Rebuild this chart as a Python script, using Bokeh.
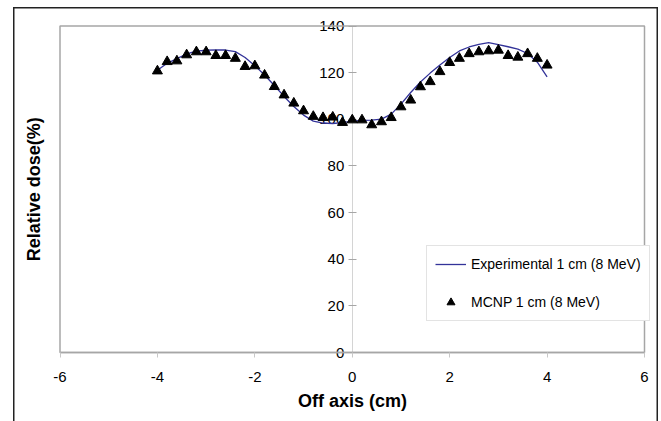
import math
from bokeh.plotting import figure
from bokeh.models import LinearAxis, FixedTicker, Legend, LegendItem, Range1d, Label
from bokeh.embed import file_html
from bokeh.resources import INLINE

# Off-axis positions (cm)
x_cm = [-4.0, -3.8, -3.6, -3.4, -3.2, -3.0, -2.8, -2.6, -2.4, -2.2, -2.0,
        -1.8, -1.6, -1.4, -1.2, -1.0, -0.8, -0.6, -0.4, -0.2, 0.0,
        0.2, 0.4, 0.6, 0.8, 1.0, 1.2, 1.4, 1.6, 1.8, 2.0,
        2.2, 2.4, 2.6, 2.8, 3.0, 3.2, 3.4, 3.6, 3.8, 4.0]

# Experimental 1 cm (8 MeV)
experimental = [121.0, 124.0, 126.0, 128.0, 129.2, 129.6, 129.8, 129.7, 129.0, 126.5, 123.0,
                119.0, 114.5, 109.8, 105.5, 101.8, 99.2, 98.4, 98.2, 98.6, 99.2,
                99.5, 99.6, 100.1, 102.2, 106.5, 111.5, 116.0, 119.8, 123.3, 126.5,
                129.3, 131.0, 132.1, 132.9, 132.0, 131.1, 130.1, 128.2, 124.5, 118.2]

# MCNP 1 cm (8 MeV)
mcnp = [120.7, 124.7, 125.0, 127.6, 128.9, 128.9, 127.3, 127.3, 126.1, 122.6, 122.9,
        118.9, 114.0, 110.4, 106.9, 103.6, 101.2, 100.7, 100.9, 98.6, 99.7,
        99.7, 97.6, 98.9, 100.7, 105.3, 108.2, 113.9, 116.1, 120.4, 124.3,
        126.1, 128.1, 128.9, 129.3, 129.6, 127.3, 126.6, 128.1, 126.1, 123.2]

x_ticks = [-6, -4, -2, 0, 2, 4, 6]
y_ticks = [0, 20, 40, 60, 80, 100, 120, 140]

FONT = "Liberation Sans"

# ---- layout (pixels inside the figure) ----
W, H = 645, 414
PLOT_L, PLOT_R = 46.5, 631.0     # plot area left/right
PLOT_T, PLOT_B = 18.5, 345.0     # plot area top/bottom
x0, x1 = x_ticks[0], x_ticks[-1]
y0, y1 = y_ticks[0], y_ticks[-1]
sx = (PLOT_R - PLOT_L) / (x1 - x0)
sy = (PLOT_B - PLOT_T) / (y1 - y0)
x_range = Range1d(x0 - PLOT_L / sx, x1 + (W - PLOT_R) / sx)
y_range = Range1d(y0 - (H - PLOT_B) / sy, y1 + PLOT_T / sy)

p = figure(width=W, height=H, x_range=x_range, y_range=y_range,
           output_backend="svg", toolbar_location=None,
           x_axis_location=None, y_axis_location=None,
           min_border=0)
p.styles = {"margin-left": "13px", "margin-top": "7px",
            "box-shadow": "inset 1.5px 1.5px 0 0 #222222, inset -1.5px 0 0 0 #222222"}

p.grid.visible = False
p.outline_line_color = None
p.background_fill_color = None
p.border_fill_alpha = 0

# plot-area border
p.quad(left=[x0], right=[x1], bottom=[y0], top=[y1],
       fill_color=None, line_color="#a6a6a6", line_width=1.5)

# x axis along y = 0
xa = LinearAxis(fixed_location=0, ticker=FixedTicker(ticks=x_ticks), bounds=(x0, x1))
xa.major_label_overrides = {t: str(t) for t in x_ticks}
xa.axis_line_color = "#a6a6a6"
xa.axis_line_width = 1.5
xa.major_tick_line_color = "#c8c8c8"
xa.major_tick_in = 0
xa.major_tick_out = 5
xa.minor_tick_line_color = None
xa.major_label_text_font = FONT
xa.major_label_text_font_size = "15px"
xa.major_label_text_color = "black"
xa.major_label_standoff = 14
xa.axis_label = "Off axis (cm)"
xa.axis_label_text_font = FONT
xa.axis_label_text_font_size = "18px"
xa.axis_label_text_font_style = "bold"
xa.axis_label_text_color = "black"
xa.axis_label_standoff = 6
p.add_layout(xa, "below")

# y axis crossing at x = 0
ya = LinearAxis(fixed_location=0, ticker=FixedTicker(ticks=y_ticks), bounds=(y0, y1))
ya.level = "underlay"
ya.axis_line_color = "#d4d4d4"
ya.axis_line_width = 1
ya.major_tick_line_color = "#a6a6a6"
ya.major_tick_in = 4
ya.major_tick_out = 4
ya.minor_tick_line_color = None
ya.major_label_text_font = FONT
ya.major_label_text_font_size = "15px"
ya.major_label_text_color = "black"
ya.major_label_standoff = 4
p.add_layout(ya, "left")

# y axis title at the far left
p.add_layout(Label(x=x0, y=(y0 + y1) / 2, x_offset=-26, text="Relative dose(%)",
                   angle=math.pi / 2, text_align="center", text_baseline="middle",
                   text_font=FONT, text_font_size="18px", text_font_style="bold",
                   text_color="black"))

r_exp = p.line(x_cm, experimental, line_color="#333399", line_width=1.3)
r_mc = p.scatter(x_cm, mcnp, marker="triangle", size=10,
                 fill_color="black", line_color="black")

legend = Legend(items=[LegendItem(label="Experimental 1 cm (8 MeV)", renderers=[r_exp]),
                       LegendItem(label="MCNP 1 cm (8 MeV)", renderers=[r_mc])],
                location=(413, 100))
legend.label_text_font = FONT
legend.label_text_font_size = "14px"
legend.label_text_color = "black"
legend.glyph_width = 31
legend.glyph_height = 20
legend.label_height = 20
legend.spacing = 18
legend.padding = 8
legend.margin = 0
legend.label_standoff = 5
legend.border_line_color = "#c8c8c8"
legend.border_line_width = 1
legend.background_fill_color = "white"
legend.background_fill_alpha = 1
p.add_layout(legend)

open("out.html", "w").write(file_html(p, INLINE))
